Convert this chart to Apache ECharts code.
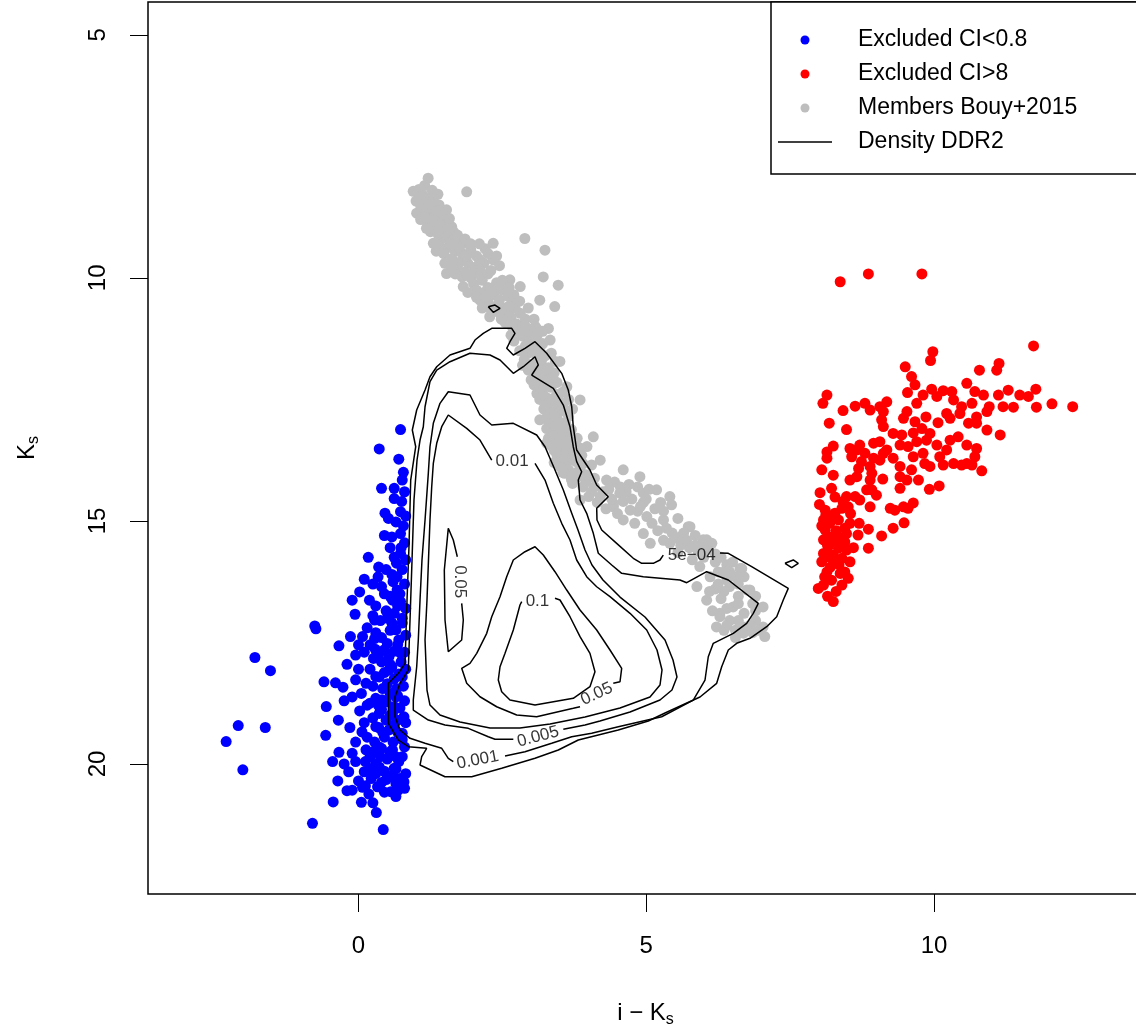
<!DOCTYPE html>
<html>
<head>
<meta charset="utf-8">
<script src="https://cdn.jsdelivr.net/npm/echarts@6/dist/echarts.min.js"></script>
<style>
html,body{margin:0;padding:0;background:#fff;}
#chart{width:1136px;height:1028px;}
</style>
</head>
<body>
<div id="chart"></div>
<script>
// ---------- DATA ----------
const xTicks = [0, 5, 10];
const yTicks = [5, 10, 15, 20];

const excludedLow = [ // CI<0.8 (blue)
[0.73,13.12],[0.36,13.52],[0.70,13.73],[0.76,14.16],[0.40,14.33],[0.62,14.33],[0.62,14.54],[0.73,14.81],[0.46,14.84],[0.65,15.02],
[0.58,15.33],[0.73,15.26],[0.73,15.67],[0.66,15.87],[0.17,15.75],[0.10,16.20],[0.34,16.15],[0.67,16.15],[0.02,16.46],[0.67,16.42],
[-0.11,16.63],[0.19,16.63],[0.59,16.63],[0.73,16.66],[-0.06,16.92],[0.28,17.04],[0.50,17.00],[0.76,17.00],[-0.76,17.16],[-0.74,17.22],
[-0.14,17.38],[0.07,17.38],[0.28,17.42],[0.65,17.24],[0.50,17.52],[-0.34,17.57],[-0.05,17.76],[0.29,17.64],[0.26,17.83],[0.53,17.79],
[0.73,17.72],[-1.80,17.81],[-1.53,18.08],[-0.60,18.31],[-0.40,18.33],[-0.27,18.42],[-0.05,18.27],[0.13,18.34],[0.36,18.21],[0.53,18.07],
[0.76,18.21],[-0.11,18.62],[0.15,18.79],[0.41,18.68],[0.65,18.62],[-0.56,18.82],[0.02,18.91],[0.36,18.96],[0.59,18.96],[0.79,19.03],
[-2.09,19.21],[-1.62,19.25],[-2.30,19.54],[-0.57,19.41],[0.06,19.34],[0.30,19.23],[0.53,19.30],[0.76,19.37],[-0.34,19.76],[-0.11,19.78],
[0.13,19.71],[0.36,19.65],[0.59,19.71],[0.76,19.85],[-2.01,20.12],[-0.17,20.16],[0.10,20.16],[0.36,20.06],[0.62,20.09],[-0.36,20.35],
[-0.11,20.54],[0.07,20.48],[0.33,20.47],[0.56,20.57],[0.79,20.37],[-0.44,20.78],[0.05,20.79],[0.31,21.00],[-0.80,21.22],[0.43,21.35],
[0.65,20.67],
[0.78,14.00],[0.80,14.40],[0.75,14.60],[0.82,14.90],[0.78,15.10],[0.80,15.45],[0.74,15.55],[0.82,15.80],[0.76,16.00],[0.80,16.30],
[0.72,16.50],[0.82,16.80],[0.76,17.10],[0.82,17.35],[0.70,17.45],[0.80,17.70],[0.74,17.90],[0.82,18.05],[0.70,18.15],[0.78,18.40],
[0.66,18.45],[0.80,18.70],[0.72,18.85],[0.82,19.15],[0.68,19.10],[0.76,19.50],[0.80,19.65],[0.70,19.95],[0.82,20.20],[0.72,20.30],
[0.80,20.50],[0.65,20.40],
[0.45,17.65],[0.62,17.68],[0.40,17.90],[0.55,17.95],[0.20,18.05],[0.45,18.12],[0.62,18.25],[0.25,18.40],[0.42,18.45],[0.55,18.55],
[0.30,18.65],[0.48,18.72],[0.05,18.55],[0.20,18.75],[0.62,18.82],[0.40,18.88],[0.25,19.05],[0.48,19.10],[0.62,19.20],[0.10,19.15],
[0.35,19.25],[0.15,19.45],[0.45,19.45],[0.60,19.55],[0.28,19.55],[-0.05,19.55],[0.40,19.68],[0.20,19.85],[0.50,19.90],[0.65,19.85],
[0.30,20.00],[0.45,20.15],[0.58,20.25],[0.22,20.30],[0.40,20.38],[-0.25,20.00],[-0.45,19.95],[0.00,20.35],[0.18,20.62],[0.45,20.58],
[0.55,15.55],[0.62,15.75],[0.48,16.00],[0.60,16.25],[0.40,16.35],[0.55,16.55],[0.30,16.75],[0.48,16.85],[0.62,16.90],[0.38,17.05],
[0.15,17.20],[0.55,17.25],[0.40,17.40],[0.20,17.55],
[0.35,17.75],[0.58,18.00],[0.30,18.20],[0.50,18.35],[0.68,18.60],[0.35,18.80],[0.55,19.00],[0.42,19.35],[0.68,19.35],[0.25,19.75],
[0.55,19.75],[0.38,19.85],[0.12,19.95],[0.65,20.10],[0.48,20.32],[0.30,20.20],[0.12,20.45],[0.68,20.55],[0.58,16.10],[0.45,16.50],
[0.68,16.75],[0.25,16.95],[0.58,17.10],[0.30,17.30],[0.68,17.55],[0.10,17.70],[0.45,15.30],[0.52,14.95],[0.35,15.95],[0.25,16.30],
[0.00,17.55],[-0.20,17.95],[0.00,18.05],[-0.25,18.70],[-0.35,19.10],[-0.15,19.25],[-0.05,19.95],[0.20,20.10],[-0.20,20.55],[0.25,20.80]
];

const excludedHigh = [ // CI>8 (red)
[8.37,10.08],[8.86,9.92],[9.79,9.92],[11.73,11.40],[9.98,11.52],[9.94,11.70],[9.50,11.83],[9.61,12.03],[9.67,12.20],[10.79,11.90],
[11.13,11.76],[11.09,11.90],[10.57,12.17],[9.54,12.36],[9.81,12.41],[9.96,12.29],[10.16,12.32],[10.31,12.34],[10.05,12.44],[10.34,12.51],
[10.71,12.34],[10.86,12.41],[11.12,12.41],[11.29,12.31],[11.49,12.41],[11.64,12.44],[11.77,12.29],[12.05,12.59],[12.41,12.65],[11.78,12.66],
[11.38,12.66],[11.20,12.65],[10.96,12.65],[10.66,12.58],[10.48,12.65],[9.70,12.58],[9.06,12.65],[9.18,12.55],[8.80,12.58],[8.63,12.64],
[8.42,12.73],[8.14,12.41],[8.07,12.58],[8.89,12.72],[9.12,12.75],[9.09,12.92],[9.12,13.06],[8.18,12.99],[8.48,13.12],[9.53,12.75],
[9.47,12.89],[9.67,12.96],[9.86,12.86],[10.07,12.98],[10.28,12.89],[10.45,12.79],[10.74,12.86],[10.60,12.99],[10.92,12.75],[10.74,12.99],
[10.92,13.13],[11.15,13.23],[10.22,12.79],[9.29,13.20],[9.44,13.23],[9.64,13.19],[9.79,13.10],[9.93,13.20],[10.05,13.44],[9.87,13.34],
[9.70,13.37],[9.55,13.47],[9.41,13.44],[9.18,13.54],[8.95,13.40],[9.06,13.37],[8.71,13.44],[8.54,13.51],[8.25,13.46],[8.14,13.58],
[8.14,13.71],[10.28,13.34],[10.42,13.27],[10.57,13.44],[10.74,13.51],[10.71,13.68],[10.57,13.82],[10.34,13.82],[10.16,13.85],[10.10,13.68],
[10.22,13.54],[10.83,13.97],[10.48,13.85],[10.66,13.85],[8.66,13.54],[8.57,13.68],[8.80,13.61],[8.95,13.71],[8.74,13.78],[8.89,13.88],
[8.69,13.92],[8.05,13.95],[8.25,14.06],[8.92,14.02],[9.06,13.75],[9.12,13.61],[9.29,13.71],[9.41,13.88],[9.61,13.95],[9.73,14.16],
[9.84,13.82],[9.93,13.88],[9.81,13.61],[9.64,13.68],[9.41,14.09],[9.53,14.16],[9.11,14.14],[9.41,14.33],[9.92,14.35],[10.09,14.28],
[8.54,14.16],[8.66,14.09],[8.89,14.16],[8.22,14.33],[8.02,14.42],[8.28,14.51],[8.48,14.50],[8.63,14.50],[8.42,14.60],[8.83,14.36],
[8.92,14.36],[9.00,14.47],[8.89,14.71],[8.01,14.66],[8.11,14.78],[8.28,14.84],[8.40,14.74],[8.51,14.71],[8.71,14.57],[9.24,14.74],
[9.32,14.78],[9.47,14.71],[9.55,14.74],[9.64,14.63],[9.48,15.04],[9.29,15.15],[9.09,15.31],[8.86,15.17],[8.86,15.56],[8.08,14.98],
[8.19,15.05],[8.34,14.98],[8.54,15.05],[8.68,15.29],[8.48,15.26],[8.11,15.19],[8.08,15.39],[8.19,15.33],[8.34,15.33],[8.45,15.43],
[8.16,15.53],[8.34,15.56],[8.48,15.60],[8.08,15.67],[8.25,15.70],[8.05,15.84],[8.28,15.84],[8.54,15.84],[8.40,15.77],[8.14,16.05],
[8.37,16.08],[8.51,16.18],[8.22,16.22],[8.40,16.32],[7.99,16.39],[8.08,16.32],[8.25,16.66],[8.20,15.95],[8.30,15.20],[8.12,14.88],
[8.15,15.50],[8.30,15.45],[8.20,15.75],[8.35,15.90],[8.10,16.15],[8.45,16.05],[8.30,16.45],[8.15,16.55],[8.45,15.15],[8.60,15.55],
[8.05,15.10],[8.25,14.95],[8.55,14.85],[8.70,15.05]
];

const members = [ // Members Bouy+2015 (grey)
[1.21,7.95],[0.95,8.22],[1.05,8.18],[1.12,8.30],[1.00,8.42],[1.20,8.45],[1.30,8.38],[1.40,8.50],[1.53,8.60],[1.10,8.62],
[1.01,8.67],[1.25,8.70],[1.35,8.66],[1.45,8.78],[1.62,8.95],[1.20,8.88],[1.32,8.95],[1.48,9.02],[1.88,8.23],[1.15,8.10],
[1.28,8.20],[1.38,8.28],
[1.30,9.29],[1.45,9.20],[1.58,9.15],[1.70,9.28],[1.82,9.29],[1.55,9.38],[1.68,9.45],[1.80,9.50],[1.95,9.42],[2.05,9.55],
[2.34,9.29],[2.20,9.40],[1.62,9.60],[1.75,9.68],[1.90,9.70],[2.02,9.78],[2.18,9.70],[2.34,9.63],[2.30,9.85],[1.53,9.91],
[1.85,9.88],[2.11,9.84],[2.45,9.75],[2.89,9.19],[3.24,9.43],[3.21,9.98],[2.63,10.04],[1.95,10.00],
[1.82,10.18],[2.00,10.12],[2.15,10.05],[2.25,10.20],[2.40,10.10],[2.50,10.25],[2.81,10.18],[2.35,10.35],[2.11,10.46],[2.25,10.50],
[2.45,10.45],[2.60,10.38],[2.69,10.52],[2.55,10.62],[3.15,10.46],[3.41,10.59],[3.47,10.15],[2.28,10.80],[2.42,10.70],[2.81,10.73],
[2.65,10.82],[2.55,10.92],[2.63,10.93],[2.75,10.95],[3.07,11.00],[3.30,11.04],[2.90,10.85],
[2.75,11.10],[2.85,11.20],[2.98,11.28],[3.33,11.28],[2.90,11.40],[3.05,11.35],[3.15,11.45],[2.70,11.30],[2.80,11.50],[2.95,11.55],
[3.10,11.62],[3.50,11.72],[3.25,11.60],[2.88,11.68],[3.00,11.78],[3.15,11.85],[3.27,12.03],[3.05,11.95],[2.95,11.90],
[3.10,12.05],[3.20,12.15],[3.62,12.24],[3.10,12.38],[3.20,12.30],[3.35,12.25],[3.45,12.40],[3.85,12.51],[3.15,12.50],[3.30,12.55],
[3.40,12.62],[3.55,12.60],[3.22,12.70],[3.35,12.78],[3.50,12.75],[3.65,12.85],[3.15,12.92],[3.30,12.95],[3.45,12.90],[3.60,13.00],
[3.72,12.70],
[3.27,13.10],[3.40,13.15],[3.55,13.20],[4.08,13.27],[3.70,13.25],[3.30,13.30],[3.45,13.35],[3.27,13.40],[3.60,13.45],[3.97,13.47],
[3.75,13.40],[3.40,13.55],[3.55,13.60],[3.70,13.62],[4.20,13.75],[3.50,13.72],[3.62,13.80],[3.78,13.78],[3.50,13.88],[3.65,13.95],
[3.85,13.92],[4.60,13.95],[4.05,13.85],
[3.67,14.05],[3.80,14.10],[4.31,14.16],[4.89,14.09],[3.72,14.23],[3.95,14.20],[4.10,14.30],[4.54,14.43],[4.95,14.43],[5.18,14.36],
[4.25,14.40],[3.85,14.57],[4.00,14.50],[4.43,14.64],[4.43,14.71],[5.41,14.50],[5.44,14.67],[4.60,14.60],[4.75,14.55],[4.72,14.78],
[5.01,14.91],[5.30,14.98],[4.15,14.62],[4.30,14.75],[4.60,14.98],[4.85,14.80],[5.15,14.75],
[5.73,15.12],[5.76,15.12],[5.99,15.39],[5.59,15.33],[5.07,15.46],[5.41,15.46],[4.95,15.26],[5.20,15.20],[5.45,15.25],[5.30,15.40],
[5.60,15.50],[6.05,15.39],[6.14,15.46],[5.75,15.55],[5.90,15.62],[5.93,15.94],[5.55,15.65],[5.80,15.80],[6.00,15.75],[6.20,15.68],
[6.66,15.98],[6.63,15.98],[6.40,15.90],
[6.11,16.15],[6.40,16.22],[6.25,16.05],[6.55,16.15],[6.80,16.42],[6.75,16.42],[6.05,16.63],[5.88,16.35],[6.20,16.40],[6.45,16.35],
[6.60,16.55],[6.30,16.60],[6.28,16.90],[6.51,16.77],[7.03,16.77],[6.85,16.70],[6.40,16.80],[6.70,16.90],[6.28,16.97],[6.22,17.18],
[6.69,17.18],[7.03,17.18],[6.69,17.31],[7.06,17.38],[6.45,17.05],[6.90,17.05],[6.55,17.25],[6.85,17.30],
[3.25,12.45],[3.38,12.48],[3.28,12.85],[3.42,13.05],[3.52,13.10],[3.38,13.25],[3.50,13.32],[3.62,13.35],[3.48,13.48],[3.62,13.55],
[3.75,13.55],[3.45,13.65],[3.58,13.70],[3.72,13.70],[3.88,13.65],[3.90,13.82],[3.58,14.02],[3.80,14.00],[3.95,14.05],[4.10,14.12],
[4.45,14.20],[4.70,14.25],[4.85,14.30],[4.40,14.55],[4.95,14.62],
[1.08,8.52],[1.18,8.58],[1.28,8.55],[1.40,8.62],[1.15,8.75],[1.30,8.82],[1.42,8.90],[1.55,8.88],[1.25,9.05],[1.38,9.10],
[1.52,9.08],[1.65,9.05],[1.40,9.35],[1.60,9.30],[1.75,9.38],[1.88,9.55],[1.72,9.80],[1.98,9.90],[2.12,9.95],[2.25,9.92],
[2.05,10.25],[2.18,10.30],[2.30,10.28],[2.42,10.55],[2.35,10.62],[2.50,10.75],[2.62,10.70],[2.72,10.62],[2.85,11.05],[2.95,11.10],
[3.10,11.20],[3.20,11.35],[3.02,11.48],[3.18,11.70],[3.30,11.85],[3.40,11.95],
[3.05,12.20],[3.30,12.10],[3.45,12.15],[3.55,12.35],[3.65,12.50],[3.25,12.62],[3.48,12.52],[3.58,12.72],[3.40,12.85],[3.52,12.98],
[3.70,13.12],[3.80,13.30],[3.35,13.45],[3.85,13.50],[3.40,13.80],[3.55,14.00],[3.70,14.15],[3.90,14.30],[4.05,14.40],
[4.65,14.40],[5.00,14.55],[5.25,14.62],[4.50,14.85],[4.80,15.05],[5.10,15.05],[5.35,15.15],[5.50,15.35],[5.70,15.40],[5.85,15.30],
[5.95,15.50],[6.20,15.85],[6.35,16.05],[6.50,15.85],[6.70,16.15],[6.25,16.30],[6.90,16.55],[6.15,16.85],[6.60,17.05],[6.40,17.15],
[6.80,17.15],
[1.05,8.35],[1.18,8.38],[1.25,8.48],[1.48,8.70],[1.58,8.78],[1.08,8.80],[1.40,9.00],[1.55,9.00],[1.72,9.12],[1.18,8.98],
[1.35,9.45],[1.48,9.50],[1.85,9.20],[1.95,9.30],[2.10,9.30],[2.25,9.50],[1.50,9.70],[1.62,9.78],[2.10,9.62],[1.68,9.92],
[1.80,9.98],[2.40,9.55],[1.90,10.30],[2.05,10.40],[2.20,10.40],[2.35,10.20],[2.50,10.05],[2.62,10.20],[2.70,10.35],[2.15,10.62],
[2.30,10.65],[2.48,10.85],[2.68,11.02],[2.90,11.00],[3.05,10.85],[2.62,10.58],[2.80,10.48],[2.95,10.62],
[2.65,11.18],[2.95,11.42],[3.10,11.05],[3.20,11.10],[2.85,11.80],[3.35,11.55],[3.42,11.72],[3.00,12.10],[3.38,12.05],[3.22,11.90],
[4.20,14.50],[4.35,14.35],[4.55,14.30],[4.90,14.70],[5.05,14.35],[5.30,14.80],[5.55,14.95],[5.65,15.25],[5.85,15.50],[6.05,15.60],
[6.30,15.75],[6.45,16.05],[6.60,16.30],[6.35,16.45],[6.90,16.85],[6.10,16.45],[6.60,16.70],[6.95,17.25],[6.35,17.25],[6.55,17.40]
];

// Density contours (DDR2) — polylines in data units, broken where labels sit
const contour5e04 = [[6.281,15.660],[6.426,15.666],[6.832,15.942],[7.468,16.387],[7.381,16.627],[7.267,16.971],[7.093,17.177],[6.803,17.415],[6.572,17.518],[6.426,17.656],[6.311,18.000],[6.224,18.341],[5.934,18.623],[5.326,18.952],[5.036,19.116],[4.514,19.302],[4.167,19.404],[3.819,19.507],[3.472,19.713],[3.067,19.884],[2.488,20.089],[1.967,20.262],[1.503,20.262],[1.069,20.021],[1.098,19.851],[1.185,19.678],[0.865,19.645],[0.692,19.507],[0.518,19.164],[0.518,18.341],[0.692,18.135],[0.808,17.930],[0.843,16.627],[0.877,15.531],[0.907,14.159],[0.994,13.474],[0.935,13.130],[1.011,12.719],[1.156,12.307],[1.242,12.034],[1.359,11.828],[1.590,11.587],[1.937,11.449],[2.024,11.279],[2.168,11.141],[2.315,11.038],[2.662,11.038],[2.719,11.141],[2.632,11.314],[2.575,11.449],[2.690,11.587],[2.893,11.449],[3.067,11.314],[3.270,11.552],[3.531,11.964],[3.645,12.307],[3.705,12.651],[3.732,13.062],[3.791,13.541],[3.906,13.747],[4.022,13.953],[4.139,14.261],[4.340,14.502],[4.139,14.741],[4.144,14.981],[4.226,15.187],[4.486,15.461],[4.775,15.769],[4.921,15.872],[5.122,15.872],[5.239,15.804],[5.296,15.702]];
const contour5e04b = [[2.255,10.594],[2.372,10.559],[2.459,10.626],[2.342,10.709],[2.255,10.594]];
const contour5e04c = [[7.411,15.872],[7.555,15.804],[7.642,15.872],[7.527,15.963],[7.411,15.872]];
const contour001 = [[2.546,19.837],[2.893,19.748],[3.357,19.575],[3.705,19.439],[4.052,19.370],[4.514,19.233],[5.268,19.028],[5.817,18.685],[6.021,18.273],[6.078,17.794],[6.165,17.518],[6.513,17.312],[6.745,17.107],[6.860,16.901],[6.947,16.695],[6.426,16.216],[6.050,16.045],[5.703,16.271],[5.586,16.216],[4.949,16.148],[4.573,16.078],[4.400,15.907],[4.167,15.666],[4.080,15.255],[3.965,14.844],[3.849,14.570],[3.819,14.159],[3.878,13.988],[3.791,13.782],[3.732,13.474],[3.675,13.062],[3.559,12.616],[3.385,12.272],[3.010,11.999],[3.124,11.793],[3.067,11.622],[2.864,11.828],[2.690,11.964],[2.459,11.690],[2.285,11.587],[1.937,11.552],[1.590,11.725],[1.359,11.896],[1.242,12.136],[1.156,12.651],[1.126,13.062],[1.069,13.336],[1.017,13.747],[0.964,14.570],[0.930,15.804],[0.895,17.039],[0.865,18.067],[0.721,18.341],[0.634,18.617],[0.634,19.028],[0.721,19.302],[0.895,19.472],[1.156,19.575],[1.446,19.678],[1.560,19.884],[1.647,19.953]];
const contour005 = [[3.559,19.287],[3.936,19.198],[4.196,19.116],[4.718,18.932],[5.239,18.685],[5.447,18.479],[5.534,18.211],[5.465,17.862],[5.326,17.450],[4.978,16.977],[4.544,16.566],[4.248,16.216],[4.057,15.907],[3.936,15.599],[3.814,15.187],[3.705,14.844],[3.559,14.364],[3.414,13.953],[3.241,13.474],[3.096,13.233],[2.690,12.992],[2.315,13.027],[2.111,12.821],[1.937,12.410],[1.560,12.342],[1.416,12.581],[1.300,12.992],[1.242,13.474],[1.213,14.021],[1.156,14.981],[1.103,15.804],[1.069,16.627],[1.039,17.450],[1.011,18.000],[0.952,18.685],[0.952,18.890],[1.213,19.096],[1.503,19.198],[1.908,19.267],[2.255,19.439],[2.372,19.493],[2.690,19.493]];
const contour01 = [[3.067,13.815],[3.241,14.159],[3.385,14.638],[3.531,15.049],[3.675,15.393],[3.791,15.804],[3.965,16.148],[4.139,16.354],[4.370,16.559],[4.718,16.901],[5.008,17.244],[5.187,17.656],[5.274,18.067],[5.239,18.376],[5.065,18.623],[4.544,18.849],[3.936,19.034],[3.328,19.178],[2.806,19.260],[2.285,19.260],[1.764,19.137],[1.416,18.993],[1.242,18.788],[1.190,18.479],[1.156,17.450],[1.190,16.627],[1.242,14.981],[1.272,14.297],[1.300,13.815],[1.359,13.404],[1.446,13.062],[1.560,12.821],[1.880,13.095],[2.111,13.336],[2.315,13.747]];
const contour05a = [[4.427,18.341],[4.544,18.308],[4.573,18.032],[4.370,17.656],[4.139,17.244],[3.849,16.833],[3.618,16.422],[3.414,16.045],[3.211,15.702],[3.067,15.531],[2.893,15.634],[2.690,15.804],[2.575,16.148],[2.459,16.559],[2.315,16.971],[2.228,17.312],[2.054,17.724],[1.937,17.930],[1.793,18.032],[1.880,18.341],[2.111,18.617],[2.401,18.823],[2.749,18.993],[3.096,19.028],[3.732,18.855],[3.849,18.823]];
const contour05b = [[1.717,15.737],[1.647,15.393],[1.560,15.152],[1.491,16.010],[1.503,17.039],[1.560,17.691],[1.793,17.450],[1.821,17.039],[1.793,16.695]];
const contour1 = [[3.414,16.592],[3.501,16.627],[3.675,16.971],[3.849,17.382],[4.022,17.724],[4.109,18.102],[4.022,18.411],[3.732,18.650],[3.067,18.788],[2.632,18.685],[2.488,18.514],[2.429,18.273],[2.459,18.000],[2.546,17.724],[2.690,17.244],[2.806,16.730],[2.836,16.662]];

const contourLabelText = ['5e\u221204', '0.001', '0.005', '0.01', '0.05', '0.05', '0.1'];
const contourLabelPos = [[5.79,15.70],[2.07,19.92],[3.12,19.44],[2.67,13.78],[1.76,16.25],[4.14,18.56],[3.11,16.65]];

// ---------- CHART ----------
const FONT = '"Liberation Sans", Arial, Helvetica, sans-serif';
const labelAngles = [0, 11, 15, 0, -90, 25, 0];
const contourSegments = [contour5e04, contour5e04b, contour5e04c, contour001, contour005, contour01, contour05a, contour05b, contour1];

const chart = echarts.init(document.getElementById('chart'), null, {renderer: 'canvas'});

const series = [
  {name: 'Excluded CI<0.8', type: 'scatter', data: excludedLow, symbol: 'circle', symbolSize: 11,
   itemStyle: {color: '#0000FF', opacity: 1}, z: 2},
  {name: 'Excluded CI>8', type: 'scatter', data: excludedHigh, symbol: 'circle', symbolSize: 11,
   itemStyle: {color: '#FF0000', opacity: 1}, z: 2},
  {name: 'Members Bouy+2015', type: 'scatter', data: members, symbol: 'circle', symbolSize: 11,
   itemStyle: {color: '#BEBEBE', opacity: 1}, z: 2}
];
contourSegments.forEach(seg => {
  series.push({name: 'Density DDR2', type: 'line', data: seg, symbol: 'none', showSymbol: false,
    lineStyle: {color: '#000', width: 1.5}, itemStyle: {color: '#000'}, silent: true, z: 3, smooth: false});
});
series.push({
  name: 'contour labels', type: 'scatter', symbolSize: 0, silent: true, z: 4,
  data: contourLabelPos.map((p, i) => ({value: p, name: contourLabelText[i],
    label: {rotate: labelAngles[i]}})),
  label: {show: true, position: 'inside', formatter: p => p.name, color: '#000',
    fontSize: 17, fontFamily: FONT}
});

const option = {
  animation: false,
  backgroundColor: '#fff',
  grid: {left: 148, top: 2, width: 995, height: 892, show: true, borderColor: '#000', borderWidth: 1.5,
         backgroundColor: 'transparent', outerBoundsMode: 'none', containLabel: false},
  xAxis: {
    type: 'value', min: -3.658, max: 13.632,
    axisLine: {show: false, onZero: false},
    splitLine: {show: false},
    axisTick: {show: true, inside: false, length: 18, customValues: xTicks, lineStyle: {color: '#000', width: 1}},
    axisLabel: {show: true, customValues: xTicks, margin: 40, fontSize: 24, color: '#000', fontFamily: FONT},
    name: 'i \u2212 K{s|s}', nameLocation: 'middle', nameGap: 104,
    nameTextStyle: {fontSize: 24, color: '#000', fontFamily: FONT, lineHeight: 30,
      rich: {s: {fontSize: 16, lineHeight: 16, verticalAlign: 'bottom', color: '#000', fontFamily: FONT}}}
  },
  yAxis: {
    type: 'value', min: 4.325, max: 22.675, inverse: true,
    axisLine: {show: false, onZero: false},
    splitLine: {show: false},
    axisTick: {show: true, inside: false, length: 18, customValues: yTicks, lineStyle: {color: '#000', width: 1}},
    axisLabel: {show: true, customValues: yTicks, margin: 38, rotate: 90, fontSize: 24, color: '#000', fontFamily: FONT},
    name: 'K{s|s}', nameLocation: 'middle', nameGap: 106, nameRotate: 90,
    nameTextStyle: {fontSize: 24, color: '#000', fontFamily: FONT, lineHeight: 30,
      rich: {s: {fontSize: 16, lineHeight: 16, verticalAlign: 'bottom', color: '#000', fontFamily: FONT}}}
  },
  legend: {
    orient: 'vertical', left: 771, top: 2,
    data: [
      {name: 'Excluded CI<0.8', icon: 'circle'},
      {name: 'Excluded CI>8', icon: 'circle'},
      {name: 'Members Bouy+2015', icon: 'circle'},
      {name: 'Density DDR2', icon: 'path://M0,0 L54,0 L54,1.5 L0,1.5 Z'}
    ],
    itemWidth: 54, itemHeight: 9, itemGap: 8,
    padding: [25, 80, 19, 7],
    borderColor: '#000', borderWidth: 1.5, backgroundColor: '#fff',
    selectedMode: false,
    textStyle: {fontSize: 23, color: '#000', fontFamily: FONT, lineHeight: 26, padding: [0, 0, 0, 21]}
  },
  series: series
};
chart.setOption(option);
</script>
</body>
</html>
